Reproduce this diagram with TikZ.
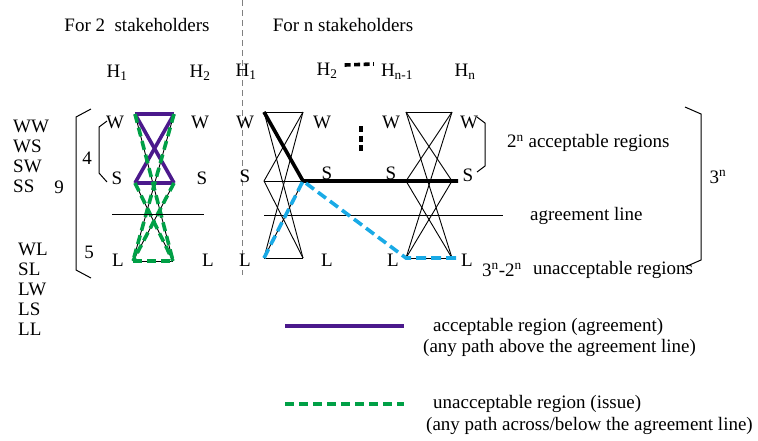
\documentclass[tikz,border=0pt]{standalone}
\usepackage{fontspec}
\setmainfont{Liberation Serif}
\usepackage{tikz}
\usetikzlibrary{positioning, calc}

\definecolor{accpurple}{RGB}{75,25,140}
\definecolor{issuegreen}{RGB}{0,160,70}
\definecolor{pathcyan}{RGB}{25,170,230}

\begin{document}
\begin{tikzpicture}[
x=1pt, y=-1pt,
    font=\fontsize{19}{20}\selectfont,
    lbl/.style={inner sep=0pt, align=center},
    thinline/.style={draw, line width=0.9pt},
    agreeline/.style={draw, line width=1pt},
    bracketline/.style={draw, line width=1pt},
    accpath/.style={draw, accpurple, line width=3.6pt},
    issuepath/.style={draw, issuegreen, line width=3.6pt, dash pattern=on 9pt off 5pt},
    boldpath/.style={draw, black, line width=3.6pt},
    cyanpath/.style={draw, pathcyan, line width=3.6pt, dash pattern=on 10pt off 5pt},
    gapdots/.style={draw, line width=3.6pt, dash pattern=on 6pt off 3.5pt},
    separator/.style={draw, gray, line width=0.9pt, dash pattern=on 6pt off 4pt}
]
    \useasboundingbox (0,0) rectangle (758,440);

    % --- Titles ---
    \node[lbl] (title2) at (137,25) {For 2\ \ stakeholders};
    \node[lbl] (titlen) at (343,25) {For n stakeholders};
    \coordinate (septop) at (242,0);
    \coordinate (sepbot) at (242,275);
    \draw[separator] (septop) -- (sepbot);

    % --- Two stakeholders ---
    \node[lbl] (ha) at (117,73) {H\textsubscript{1}};
    \node[lbl] (hb) at (200,73) {H\textsubscript{2}};

    \node[lbl] (lwa) at (115,122) {W};
    \node[lbl] (lwb) at (200,122) {W};
    \node[lbl] (lsa) at (117,178) {S};
    \node[lbl] (lsb) at (202,178) {S};
    \node[lbl] (lla) at (118,260) {L};
    \node[lbl] (llb) at (208,260) {L};

    \coordinate (wa) at (135,114);
    \coordinate (wb) at (174,114);
    \coordinate (sa) at (135,183);
    \coordinate (sb) at (174,183);
    \coordinate (la) at (133,261);
    \coordinate (lb) at (173,261);

    % all pairs, thin
    \draw[thinline] (wa) -- (wb);
    \draw[thinline] (wa) -- (sb);
    \draw[thinline] (wa) -- (lb);
    \draw[thinline] (sa) -- (wb);
    \draw[thinline] (sa) -- (sb);
    \draw[thinline] (sa) -- (lb);
    \draw[thinline] (la) -- (wb);
    \draw[thinline] (la) -- (sb);
    \draw[thinline] (la) -- (lb);

    % acceptable paths
    \draw[accpath] (wa) -- (wb);
    \draw[accpath] (sa) -- (sb);
    \draw[accpath] (wa) -- (sb);
    \draw[accpath] (sa) -- (wb);

    % unacceptable paths
    \draw[issuepath] (wa) -- (lb);
    \draw[issuepath] (wb) -- (la);
    \draw[issuepath] (sa) -- (lb);
    \draw[issuepath] (sb) -- (la);
    \draw[issuepath] (la) -- (lb);

    \coordinate (agl1) at (112,214);
    \coordinate (agr1) at (204,214);
    \draw[agreeline] (agl1) -- (agr1);

    % brackets and counts
    \draw[bracketline] (91,109) -- (76,117) -- (76,270) -- (91,278);
    \draw[bracketline] (107,121) -- (99,127) -- (99,173) -- (107,182);
    \node[lbl] (nfour) at (87,158) {4};
    \node[lbl] (nnine) at (59,187) {9};
    \node[lbl] (nfive) at (89,252) {5};

    \node[lbl, anchor=north west, align=left] (goodlist) at (13,120) {WW\\WS\\SW\\SS};
    \node[lbl, anchor=north west, align=left] (badlist) at (18,243) {WL\\SL\\LW\\LS\\LL};

    % --- n stakeholders ---
    \node[lbl] (hna) at (246,72) {H\textsubscript{1}};
    \node[lbl] (hnb) at (327,71) {H\textsubscript{2}};
    \node[lbl] (hnc) at (397,72) {H\textsubscript{n-1}};
    \node[lbl] (hnd) at (465,72) {H\textsubscript{n}};
    \draw[gapdots] ($(hnb.east)+(7,-6)$) -- ($(hnc.west)+(-7,-8)$);

    \node[lbl] (nwa) at (245,122) {W};
    \node[lbl] (nwb) at (322,122) {W};
    \node[lbl] (nwc) at (391,122) {W};
    \node[lbl] (nwd) at (469,122) {W};
    \node[lbl] (nsa) at (245,176) {S};
    \node[lbl] (nsb) at (327,173) {S};
    \node[lbl] (nsc) at (391,173) {S};
    \node[lbl] (nsd) at (468,175) {S};
    \node[lbl] (nla) at (245,260) {L};
    \node[lbl] (nlb) at (327,260) {L};
    \node[lbl] (nlc) at (393,260) {L};
    \node[lbl] (nld) at (467,260) {L};

    \coordinate (aW) at (264,112);
    \coordinate (bW) at (303,112);
    \coordinate (aS) at (264,181);
    \coordinate (bS) at (303,181);
    \coordinate (aL) at (264,258);
    \coordinate (bL) at (303,258);
    \coordinate (cW) at (406,112);
    \coordinate (dW) at (452,112);
    \coordinate (cS) at (406,181);
    \coordinate (dS) at (452,181);
    \coordinate (cL) at (406,258);
    \coordinate (dL) at (452,258);

    % first pair of columns
    \draw[thinline] (aW) -- (bW);
    \draw[thinline] (aW) -- (bS);
    \draw[thinline] (aW) -- (bL);
    \draw[thinline] (aS) -- (bW);
    \draw[thinline] (aS) -- (bS);
    \draw[thinline] (aS) -- (bL);
    \draw[thinline] (aL) -- (bW);
    \draw[thinline] (aL) -- (bS);
    \draw[thinline] (aL) -- (bL);

    % last pair of columns
    \draw[thinline] (cW) -- (dW);
    \draw[thinline] (cW) -- (dS);
    \draw[thinline] (cW) -- (dL);
    \draw[thinline] (cS) -- (dW);
    \draw[thinline] (cS) -- (dS);
    \draw[thinline] (cS) -- (dL);
    \draw[thinline] (cL) -- (dW);
    \draw[thinline] (cL) -- (dS);
    \draw[thinline] (cL) -- (dL);

    \coordinate (vdtop) at (361,126);
    \coordinate (vdbot) at (361,151);
    \draw[gapdots] (vdtop) -- (vdbot);

    \coordinate (agl2) at (264,215);
    \coordinate (agr2) at (503,215);
    \draw[agreeline] (agl2) -- (agr2);

    % example paths
    \draw[boldpath] (aW) -- (bS) -- ($(dS)+(6,0)$);
    \draw[cyanpath] (aL) -- (bS) -- (cL) -- ($(dL)+(6,0)$);

    % brackets and notes
    \draw[bracketline] (477,117) -- (485,123) -- (485,166) -- (477,172);
    \draw[bracketline] (685,107) -- (701,114) -- (701,260) -- (685,267);
    \node[lbl, anchor=west] (accnote) at (507,143) {2\textsuperscript{n} acceptable regions};
    \node[lbl, anchor=west] (agnote) at (530,216) {agreement line};
    \node[lbl, anchor=west] (countnote) at (482,270) {3\textsuperscript{n}-2\textsuperscript{n}};
    \node[lbl, anchor=west] (badnote) at (533,270) {unacceptable regions};
    \node[lbl] (allnote) at (718,177) {3\textsuperscript{n}};

    % --- Legend ---
    \coordinate (legaccl) at (285,326);
    \coordinate (legaccr) at (404,326);
    \coordinate (legbadl) at (285,404);
    \coordinate (legbadr) at (404,404);
    \draw[accpath] (legaccl) -- (legaccr);
    \draw[issuepath] (legbadl) -- (legbadr);
    \node[lbl, anchor=west] (legacc) at (433,327) {acceptable region (agreement)};
    \node[lbl, anchor=west] (legaccsub) at (423,348) {(any path above the agreement line)};
    \node[lbl, anchor=west] (legbad) at (433,404) {unacceptable region (issue)};
    \node[lbl, anchor=west] (legbadsub) at (426,426) {(any path across/below the agreement line)};

\end{tikzpicture}
\end{document}
